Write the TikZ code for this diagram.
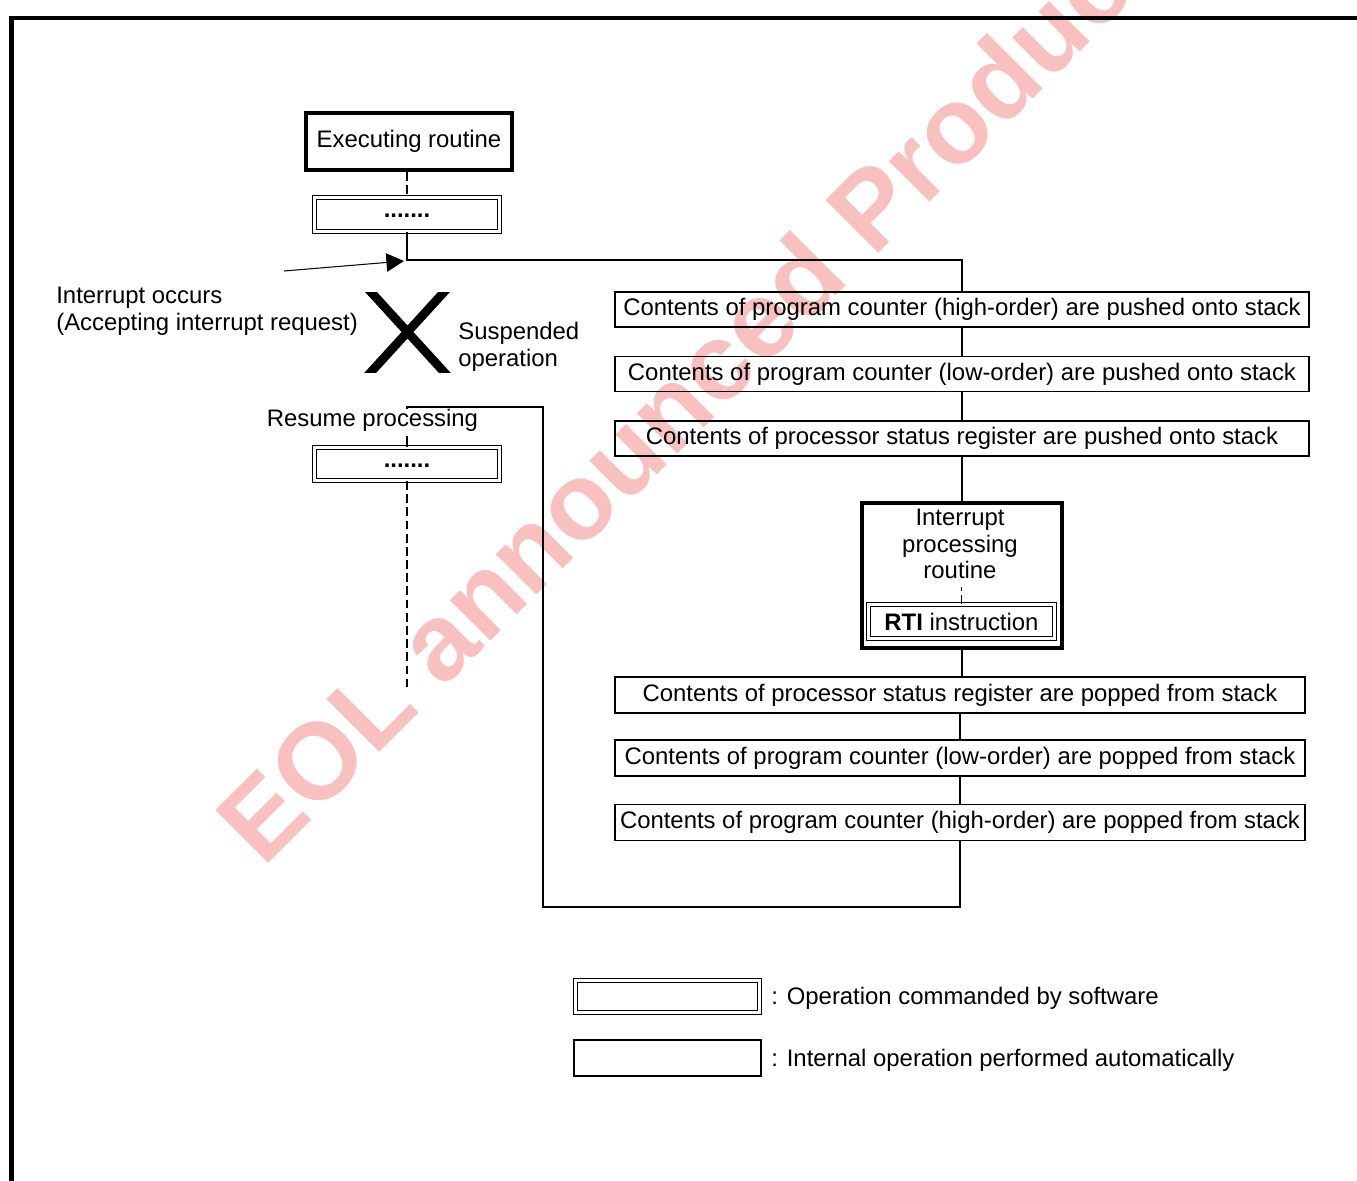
\documentclass[tikz,border=0pt]{standalone}
\usepackage{fontspec}
\setmainfont{Liberation Sans}
\usetikzlibrary{arrows.meta}
\definecolor{wmpink}{RGB}{249,192,192}

\begin{document}
\begin{tikzpicture}[x=0.02cm,y=-0.02cm,font=\fontsize{13.6}{15.3}\selectfont,
  autobox/.style={draw,line width=1.1pt,inner sep=0pt},
  softbox/.style={draw,double,double distance=1.5pt,line width=0.6pt,inner sep=0pt},
  heavybox/.style={draw,line width=2.4pt,inner sep=0pt},
  dotbox/.style={softbox,minimum width=3.7cm,text height=0.12cm,text depth=0pt,font=\fontsize{13.6}{15.3}\selectfont\bfseries},
  dashline/.style={line width=0.9pt,dash pattern=on 5pt off 2.5pt},
  link/.style={line width=0.8pt},
  >={Triangle[length=10pt,width=10.5pt]}]
\useasboundingbox (0,0) rectangle (1357,1181);
\node[rotate=45,anchor=base west,inner sep=0pt,text=wmpink,font=\fontsize{61.8}{70}\selectfont\bfseries] (wm) at (263,869) {EOL announced Product};
\draw[line width=2.8pt] (1357,18) -- (11.5,18) -- (11.5,1181);

\node[heavybox,minimum width=4.12cm,minimum height=1.14cm] (exec) at (409,141.5) {Executing routine};
\node[dotbox,minimum height=0.68cm] (dots1) at (407,214.5) {.......};
\draw[dashline] (dots1.north |- exec.south) -- (dots1.north);
\coordinate (split) at (407,260);
\coordinate (req) at (284,271);
\coordinate (reqtip) at (404,261);
\draw[->,line width=0.6pt] (req) -- (reqtip);

\foreach \y/\name/\txt in {309.5/push1/{Contents of program counter (high-order) are pushed onto stack},
  374/push2/{Contents of program counter (low-order) are pushed onto stack},
  438.5/push3/{Contents of processor status register are pushed onto stack}}
  \node[autobox,minimum width=13.88cm,minimum height=0.7cm] (\name) at (962,\y) {\txt};
\draw[link] (dots1.south) -- (split) -| (push1.north);
\draw[link] (push1) -- (push2) -- (push3);

\node[heavybox,minimum width=4cm,minimum height=2.9cm] (ipr) at (962,575.5) {};
\node[align=center,inner sep=0pt] (iprtext) at (960,544) {Interrupt\\processing\\routine};
\node[softbox,minimum width=3.72cm,minimum height=0.68cm] (rti) at (961.5,621.5) {\textbf{RTI} instruction};
\draw[link] (push3) -- (ipr);
\draw[dashline] (rti.north) -- ++(0,-17);

\foreach \y/\name/\txt in {695/pop1/{Contents of processor status register are popped from stack},
  758/pop2/{Contents of program counter (low-order) are popped from stack},
  822.5/pop3/{Contents of program counter (high-order) are popped from stack}}
  \node[autobox,minimum width=13.8cm,minimum height=0.72cm] (\name) at (960,\y) {\txt};
\draw[link] (ipr.south) -- (ipr.south |- pop1.north);
\draw[link] (pop1) -- (pop2) -- (pop3);

\node[dotbox,minimum height=0.66cm] (dots2) at (407,464) {.......};
\coordinate (retlow) at (543,907);
\coordinate (rethigh) at (543,407);
\coordinate (idle) at (407,690);
\draw[link] (pop3.south) |- (retlow) -- (rethigh) -| (dots2.north);
\draw[dashline] (dots2.south) -- (idle);
\node[fill=white,inner xsep=1pt,inner ysep=0pt,text depth=0.19cm,anchor=base] (resume) at (372.5,426) {Resume processing};

\begin{scope}
\clip (355,292) rectangle (460,372);
\draw[line width=5pt] (363.7,284) -- (451.3,380) (451.3,284) -- (363.7,380);
\end{scope}
\node[anchor=west,align=left,inner sep=0pt] (occurs) at (56,311.5) {Interrupt occurs\\(Accepting interrupt request)};
\node[anchor=west,align=left,inner sep=0pt] (suspend) at (458,346.5) {Suspended\\operation};

\node[softbox,minimum width=3.68cm,minimum height=0.64cm] (lsoft) at (667.5,996.5) {};
\node[autobox,line width=1.3pt,minimum width=3.74cm,minimum height=0.72cm] (lauto) at (667.5,1058) {};
\node[anchor=west,inner sep=0pt] (lsofttxt) at (771,998.5) {: Operation commanded by software};
\node[anchor=west,inner sep=0pt] (lautotxt) at (771,1060) {: Internal operation performed automatically};
\end{tikzpicture}
\end{document}
